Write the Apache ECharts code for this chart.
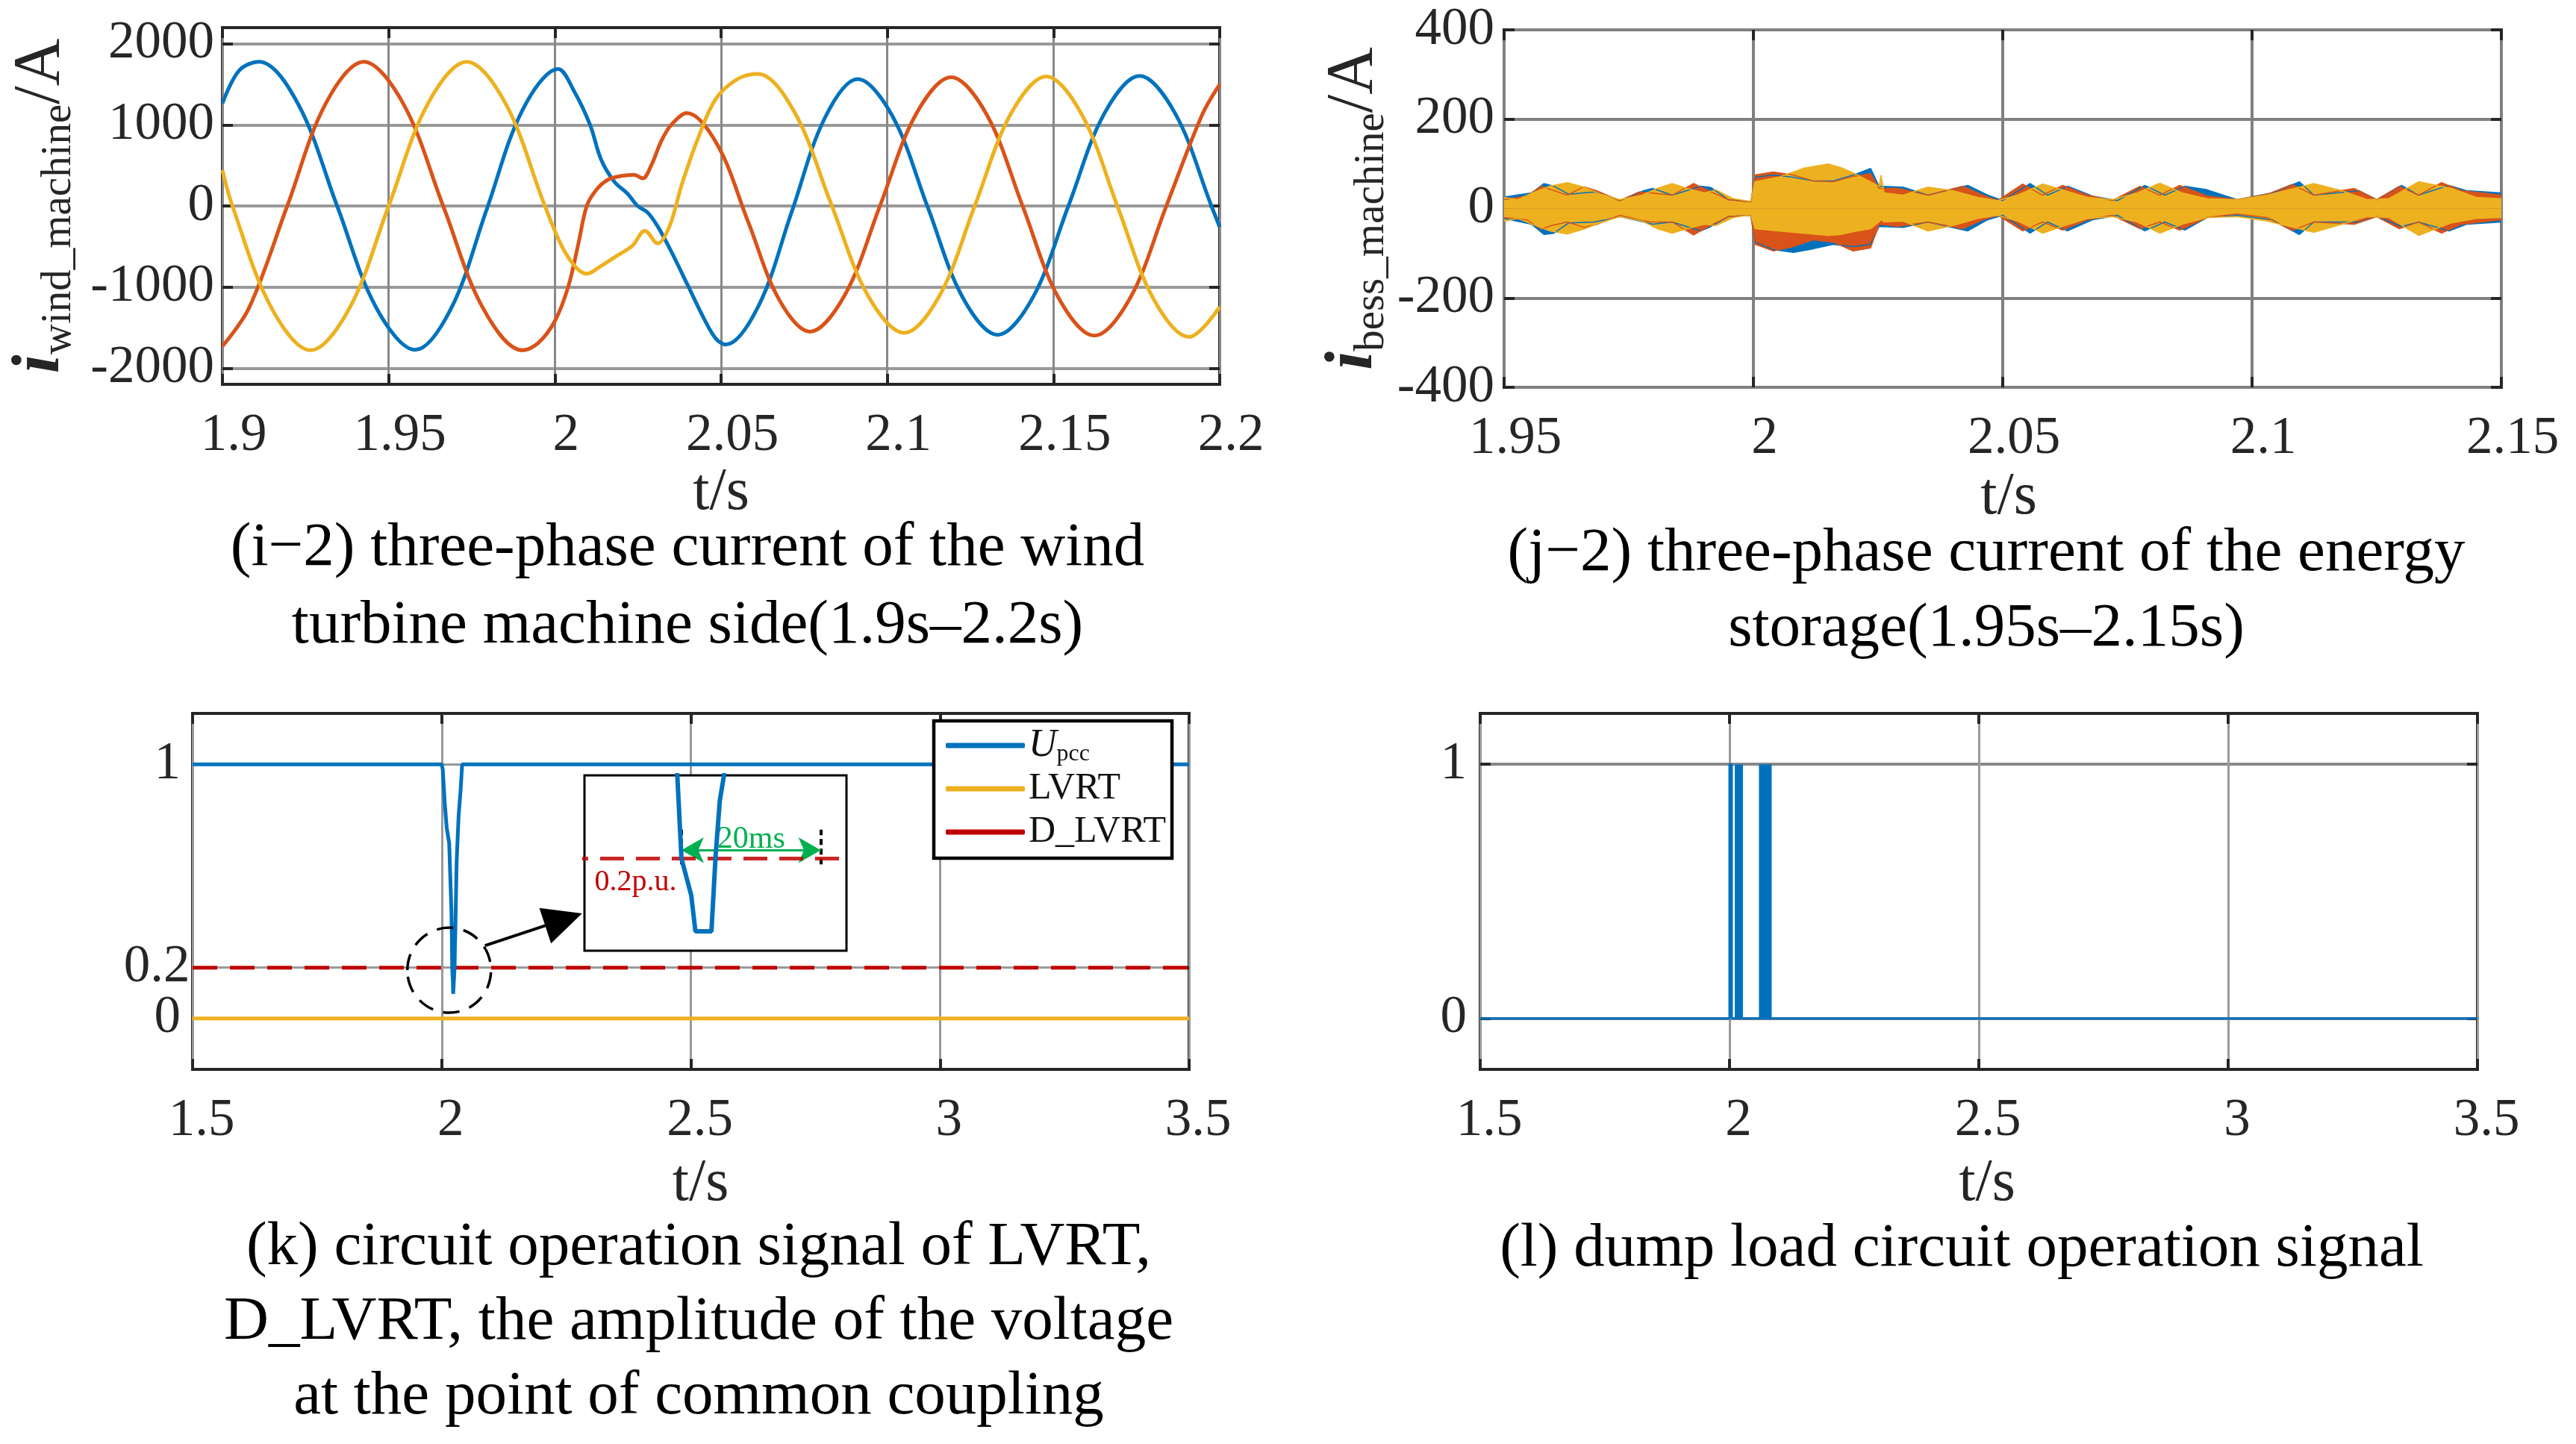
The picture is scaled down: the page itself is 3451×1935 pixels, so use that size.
<!DOCTYPE html>
<html><head><meta charset="utf-8">
<script src="https://cdn.jsdelivr.net/npm/echarts@6/dist/echarts.min.js"></script>
<style>html,body{margin:0;padding:0;background:#fff}#c{width:3451px;height:1935px}</style>
</head><body><div id="c"></div>
<script>
// ---------------- DATA ----------------
// (i-2) wind turbine machine-side three-phase current (A)
const windA_t = [1.9,1.905,1.911,1.92275,1.9345,1.94625,1.958,1.96875,1.9795,1.99025,2.001,2.006,2.0106,2.0139,2.0179,2.0219,2.0249,2.0279,2.0309,2.035,2.040,2.045,2.0485,2.0514,2.0613,2.07125,2.0812,2.0911,2.10163,2.11215,2.12267,2.1332,2.14388,2.15455,2.16523,2.1759,2.18668,2.19745,2.2];
const windA_v = [1267,1670,1780,1259,0,-1254,-1775,-1267,-42,1182,1690,1400,1000,574,300,150,0,-80,-250,-560,-980,-1400,-1640,-1710,-1230,-73,1084,1564,1102,-13,-1128,-1590,-1122,7,1136,1604,1136,7,-260];
const windB_t = [1.9,1.908,1.9195,1.931,1.9425,1.95445,1.9664,1.97835,1.9903,1.995,2.0,2.004,2.007,2.0096,2.0125,2.0159,2.020,2.0238,2.0264,2.029,2.032,2.035,2.0397,2.04895,2.0582,2.06745,2.0767,2.08733,2.09795,2.10858,2.1192,2.13,2.14075,2.1515,2.1623,2.1731,2.1839,2.1947,2.2];
const windB_v = [-1730,-1258,0,1258,1780,1258,0,-1258,-1780,-1690,-1420,-1000,-480,0,200,322,370,385,340,500,800,1000,1145,750,-202,-1154,-1550,-1090,18,1128,1587,1120,-6,-1133,-1600,-1133,-5,1123,1500];
const windC_t = [1.9,1.903,1.91475,1.9265,1.93825,1.95,1.96175,1.9735,1.98525,1.997,2.0035,2.0096,2.0139,2.0183,2.0233,2.0271,2.0309,2.0345,2.0383,2.0433,2.0484,2.0547,2.061,2.07203,2.08305,2.09408,2.1051,2.11578,2.12645,2.13713,2.1478,2.15855,2.1693,2.18005,2.1908,2.2];
const windC_v = [442,0,-1258,-1780,-1258,0,1258,1780,1258,0,-600,-836,-740,-624,-492,-305,-462,-250,280,860,1320,1560,1630,1162,32,-1097,-1565,-1102,16,1134,1597,1126,-9,-1144,-1615,-1245];

// (j-2) energy storage current: upper / lower envelope of each phase band (A)
const bessY_t  = [1.95,1.9527,1.9557,1.9592,1.9627,1.966,1.9692,1.9732,1.9777,1.9807,1.9837,1.9867,1.9902,1.9925,1.996,1.9995,2.0003,2.005,2.01,2.015,2.0175,2.02,2.0235,2.0252,2.0256,2.0262,2.03,2.035,2.04,2.045,2.049,2.053,2.058,2.0625,2.067,2.072,2.077,2.0815,2.086,2.091,2.097,2.103,2.1124,2.118,2.1231,2.1274,2.1334,2.14,2.145,2.15];
const bessY_up = [25,20,35,50,58,48,33,20,30,45,56,45,35,42,22,16,60,70,90,100,92,80,60,50,75,35,30,48,40,25,18,30,55,40,25,20,35,57,35,22,20,30,56,40,20,22,60,45,25,22];
const bessY_lo = [-28,-22,-35,-50,-57,-46,-32,-18,-28,-45,-55,-45,-35,-38,-20,-14,-45,-50,-55,-60,-58,-52,-45,-30,-25,-30,-28,-50,-38,-22,-15,-28,-55,-38,-22,-18,-30,-55,-35,-20,-18,-28,-53,-35,-18,-20,-60,-32,-22,-20];
const bessB_t  = [1.95,1.9545,1.9575,1.9595,1.9627,1.966,1.9685,1.9732,1.977,1.9795,1.9837,1.988,1.991,1.995,1.9995,2.0003,2.004,2.008,2.012,2.016,2.02,2.0235,2.0252,2.029,2.035,2.042,2.046,2.049,2.054,2.058,2.062,2.067,2.072,2.0775,2.0815,2.0855,2.091,2.097,2.103,2.108,2.1124,2.1205,2.125,2.1295,2.1334,2.138,2.142,2.15];
const bessB_up = [20,28,50,42,30,49,40,18,37,35,30,56,40,20,15,75,82,75,62,60,72,78,45,45,30,50,30,18,55,30,52,30,18,50,30,52,28,20,32,54,30,45,20,50,30,58,40,30];
const bessB_lo = [-20,-25,-46,-38,-30,-42,-36,-15,-25,-30,-30,-59,-40,-18,-15,-80,-95,-85,-70,-75,-95,-88,-35,-40,-30,-45,-25,-15,-50,-30,-48,-25,-15,-45,-30,-48,-20,-12,-20,-49,-30,-35,-18,-45,-30,-55,-35,-25];
const bessA_t  = [1.95,1.9555,1.958,1.96,1.963,1.968,1.9705,1.9732,1.978,1.9798,1.9837,1.9895,1.9915,1.995,1.9995,2.0003,2.004,2.008,2.012,2.016,2.02,2.0235,2.0252,2.03,2.035,2.043,2.047,2.05,2.0555,2.059,2.063,2.068,2.073,2.0785,2.0825,2.0865,2.091,2.097,2.104,2.1095,2.1124,2.1215,2.125,2.13,2.1334,2.1395,2.143,2.15];
const bessA_up = [26,35,56,50,32,37,30,18,40,45,30,50,47,20,15,70,75,70,62,62,75,90,50,48,30,52,30,18,56,30,50,28,18,52,30,50,42,20,35,60,30,40,20,52,30,52,40,35];
const bessA_lo = [-22,-35,-58,-55,-32,-30,-25,-18,-30,-35,-30,-50,-40,-18,-15,-75,-92,-98,-90,-80,-85,-80,-40,-42,-30,-50,-25,-15,-55,-30,-50,-25,-15,-50,-30,-48,-20,-15,-25,-58,-30,-30,-18,-40,-30,-50,-35,-30];

// (k) PCC voltage amplitude (p.u.) and thresholds
const upcc_t = [1.5,2.0,2.002,2.006,2.010,2.015,2.0195,2.0204,2.021,2.0224,2.0230,2.0253,2.0259,2.0265,2.0271,2.030,2.034,2.038,2.041,3.5];
const upcc_v = [1,1,0.98,0.85,0.75,0.69,0.42,0.318,0.2,0.148,0.097,0.097,0.204,0.282,0.318,0.62,0.8,0.9,1.0,1];
const lvrt_t = [1.5,3.5];
const lvrt_v = [0,0];
const dlvrt_t = [1.5,3.5];
const dlvrt_v = [0.2,0.2];
const holdStart = 2.021, holdEnd = 2.041;      // 20 ms window in the inset
const insetRangeT = [2.00707, 2.04469];
const insetRangeV = [0.0695, 0.318];

// (l) dump load operation signal
const dump_t = [1.5,2.0,2.0,2.0045,2.0045,3.5];
const dump_v = [0,0,1,1,0,0];
const dumpBurstStart = [2.0105, 2.059];
const dumpBurstEnd   = [2.027, 2.0845];

// tick values / labels
const windTicks = [-2000,-1000,0,1000,2000];
const kTicks = [0,0.2,1];
const kLabelsAxis = [0,1];      // 0.2 is labelled next to the D_LVRT threshold
const kLabelThreshold = 0.2;
const lTicks = [0,1];

// ---------------- STYLE ----------------
const FONT = '"Liberation Serif","Times New Roman",Times,serif';
const INK = '#262626';
const C_BLUE = '#0072BD', C_ORANGE = '#D95319', C_YELLOW = '#EDB120', C_RED = '#C00000', C_GREEN = '#00B050';
const pairs = (t, v) => t.map((x, i) => [x, v[i]]);
const fmt = v => String(Math.round(v * 1000) / 1000);

const gridBase = {show: true, borderColor: INK, borderWidth: 4, backgroundColor: 'transparent'};
const grids = [
  Object.assign({left: 298, top: 37, width: 1336, height: 478}, gridBase),
  Object.assign({left: 2015, top: 40, width: 1336, height: 479}, gridBase),
  Object.assign({left: 258, top: 956, width: 1335, height: 477}, gridBase),
  Object.assign({left: 1983, top: 956, width: 1336, height: 477}, gridBase),
  {show: true, left: 783, top: 1039, width: 351, height: 235, z: 5, backgroundColor: '#fff', borderColor: '#000', borderWidth: 3}
];

const tickStyle = {show: true, inside: true, length: 14, lineStyle: {color: INK, width: 4}};

function xBottom(gi, min, max, interval, nameGap, namePad, labelPad, split) {
  return {type: 'value', gridIndex: gi, min, max, interval, position: 'bottom',
    axisLine: {show: false, onZero: false}, axisTick: tickStyle,
    axisLabel: {margin: 34, fontSize: 71, fontFamily: FONT, color: INK, padding: [0, 0, 0, labelPad], formatter: fmt,
      hideOverlap: false, showMinLabel: true, showMaxLabel: true},
    splitLine: {show: true, lineStyle: split},
    name: 't/s', nameLocation: 'middle', nameGap,
    nameTextStyle: {fontSize: 80, fontFamily: FONT, color: INK, padding: [0, 0, 0, namePad]}};
}
function xTopAx(gi, min, max, interval) {
  return {type: 'value', gridIndex: gi, min, max, interval, position: 'top',
    axisLine: {show: false, onZero: false}, axisTick: tickStyle, axisLabel: {show: false}, splitLine: {show: false}};
}
function yLeft(gi, min, max, ticks, labels, interval, margin, split, name, nameGap) {
  const o = {type: 'value', gridIndex: gi, min, max, position: 'left',
    axisLine: {show: false, onZero: false},
    axisTick: Object.assign({}, tickStyle),
    axisLabel: {margin, fontSize: 71, fontFamily: FONT, color: INK, formatter: fmt,
      hideOverlap: false, showMinLabel: true, showMaxLabel: true},
    splitLine: {show: true, lineStyle: split}};
  if (ticks) { o.axisTick.customValues = ticks; o.axisLabel.customValues = labels || ticks; } else { o.interval = interval; }
  if (name) {
    o.name = name; o.nameLocation = 'middle'; o.nameGap = nameGap; o.nameRotate = 90;
    o.nameTextStyle = {color: INK, rich: {
      i: {fontFamily: FONT, fontStyle: 'italic', fontWeight: 'bold', fontSize: 90, lineHeight: 106, color: INK},
      s: {fontFamily: FONT, fontSize: 57, lineHeight: 57, verticalAlign: 'bottom', color: INK},
      a: {fontFamily: FONT, fontSize: 88, lineHeight: 106, color: INK}
    }};
  }
  return o;
}
function yRight(gi, min, max, ticks, interval) {
  const o = {type: 'value', gridIndex: gi, min, max, position: 'right',
    axisLine: {show: false, onZero: false}, axisTick: Object.assign({}, tickStyle),
    axisLabel: {show: false}, splitLine: {show: false}};
  if (ticks) { o.axisTick.customValues = ticks; } else { o.interval = interval; }
  return o;
}

const xAxes = [
  xBottom(0, 1.9, 2.2, 0.05, 106, 0, 30, {color: '#888', width: 3}),
  xTopAx(0, 1.9, 2.2, 0.05),
  xBottom(1, 1.95, 2.15, 0.05, 108, 16, 30, {color: '#808080', width: 4}),
  xTopAx(1, 1.95, 2.15, 0.05),
  xBottom(2, 1.5, 3.5, 0.5, 114, 26, 24, {color: '#999', width: 3}),
  xTopAx(2, 1.5, 3.5, 0.5),
  xBottom(3, 1.5, 3.5, 0.5, 114, 22, 24, {color: '#999', width: 3}),
  xTopAx(3, 1.5, 3.5, 0.5),
  {type: 'value', gridIndex: 4, min: insetRangeT[0], max: insetRangeT[1], show: false, splitLine: {show: false}}
];
const yAxes = [
  yLeft(0, -2200, 2200, windTicks, null, null, 11, {color: '#999', width: 4}, '{i|i}{s|wind_machine}{a|/A}', 190),
  yRight(0, -2200, 2200, windTicks, null),
  yLeft(1, -400, 400, null, null, 200, 13, {color: '#808080', width: 4}, '{i|i}{s|bess_machine}{a|/A}', 148),
  yRight(1, -400, 400, null, 200),
  yLeft(2, -0.2, 1.2, kTicks, kLabelsAxis, null, 16, {color: '#999', width: 3}),
  yRight(2, -0.2, 1.2, kTicks, null),
  yLeft(3, -0.2, 1.2, lTicks, null, null, 18, {color: '#888', width: 4}),
  yRight(3, -0.2, 1.2, lTicks, null),
  {type: 'value', gridIndex: 4, min: insetRangeV[0], max: insetRangeV[1], show: false, splitLine: {show: false}}
];

function lineS(name, data, color, xi, width, extra) {
  return Object.assign({type: 'line', name, data, xAxisIndex: xi, yAxisIndex: xi, showSymbol: false,
    symbol: 'none', color, lineStyle: {color, width}, animation: false}, extra || {});
}
function bandS(tag, t, up, lo, color) {
  const s = {areaStyle: {color, opacity: 1}};
  return [lineS(tag + '+', pairs(t, up), color, 2, 1.5, s), lineS(tag + '-', pairs(t, lo), color, 2, 1.5, s)];
}

const series = [
  lineS('ia', pairs(windA_t, windA_v), C_BLUE, 0, 5, {smooth: 0.35}),
  lineS('ib', pairs(windB_t, windB_v), C_ORANGE, 0, 5, {smooth: 0.35}),
  lineS('ic', pairs(windC_t, windC_v), C_YELLOW, 0, 5, {smooth: 0.35}),
  ...bandS('ba', bessA_t, bessA_up, bessA_lo, C_BLUE),
  ...bandS('bb', bessB_t, bessB_up, bessB_lo, C_ORANGE),
  ...bandS('bc', bessY_t, bessY_up, bessY_lo, C_YELLOW),
  lineS('LVRT', pairs(lvrt_t, lvrt_v), C_YELLOW, 4, 5),
  lineS('D_LVRT', pairs(dlvrt_t, dlvrt_v), C_RED, 4, 5, {lineStyle: {color: C_RED, width: 5, type: [33, 17]},
    markPoint: {silent: true, animation: false, symbol: 'circle', symbolSize: 1, itemStyle: {color: 'transparent'},
      data: [{coord: [xAxes[4].min, kLabelThreshold],
        label: {show: true, position: 'left', distance: 3, formatter: fmt(kLabelThreshold), color: INK, fontSize: 71, fontFamily: FONT}}]}}),
  lineS('Upcc', pairs(upcc_t, upcc_v), C_BLUE, 4, 5),
  lineS('dump', pairs(dump_t, dump_v), C_BLUE, 6, 3),
  {type: 'custom', name: 'dumpBurst', xAxisIndex: 6, yAxisIndex: 6, animation: false,
    data: dumpBurstStart.map((s, i) => [s, dumpBurstEnd[i]]),
    renderItem: (params, api) => {
      const p0 = api.coord([api.value(0), 1]);
      const p1 = api.coord([api.value(1), 0]);
      return {type: 'rect', shape: {x: p0[0], y: p0[1], width: p1[0] - p0[0], height: p1[1] - p0[1]}, style: {fill: C_BLUE}};
    }},
  // inset (zoom of the voltage dip)
  lineS('dl_zoom', pairs(dlvrt_t, dlvrt_v), C_RED, 8, 5, {z: 10,
    lineStyle: {color: 'rgba(192,0,0,0.85)', width: 5, type: [32, 16]},
    markLine: {silent: true, animation: false, symbol: 'none', label: {show: false},
      data: [
        [{coord: [holdStart, 0.192], lineStyle: {color: '#000', type: [8, 5], width: 4}}, {coord: [holdStart, 0.241]}],
        [{coord: [holdEnd, 0.192], lineStyle: {color: '#000', type: [8, 5], width: 4}}, {coord: [holdEnd, 0.241]}],
        [{coord: [holdStart, 0.212], symbol: 'arrow', symbolSize: [26, 30], lineStyle: {color: C_GREEN, type: 'solid', width: 3}},
         {coord: [holdEnd, 0.212], symbol: 'arrow', symbolSize: [26, 30]}]
      ]},
    markPoint: {silent: true, animation: false, symbol: 'circle', symbolSize: 1, itemStyle: {color: 'transparent'},
      data: [
        {coord: [2.031, 0.227], label: {show: true, position: 'inside', formatter: '20ms', color: C_GREEN, fontSize: 42, fontFamily: FONT}},
        {coord: [2.0144, 0.166], label: {show: true, position: 'inside', formatter: '0.2p.u.', color: C_RED, fontSize: 40, fontFamily: FONT}}
      ]}
  }),
  lineS('up_zoom', pairs(upcc_t, upcc_v), C_BLUE, 8, 6, {z: 11})
];

const option = {
  backgroundColor: '#fff',
  animation: false,
  grid: grids,
  xAxis: xAxes,
  yAxis: yAxes,
  legend: {
    data: ['Upcc', 'LVRT', 'D_LVRT'], orient: 'vertical', left: 1251, top: 966,
    padding: [5, 8, 7, 16], itemGap: 2, itemWidth: 106, itemHeight: 7, icon: 'roundRect',
    backgroundColor: '#fff', borderColor: '#000', borderWidth: 4.5, selectedMode: false, z: 20,
    formatter: n => n === 'Upcc' ? '{u|U}{p|pcc}' : n,
    textStyle: {fontFamily: FONT, fontSize: 50, lineHeight: 56, color: '#111',
      rich: {u: {fontFamily: FONT, fontStyle: 'italic', fontSize: 52, lineHeight: 56, color: '#111'},
             p: {fontFamily: FONT, fontSize: 32, lineHeight: 32, verticalAlign: 'bottom', color: '#111'}}}
  },
  series
};

const chart = echarts.init(document.getElementById('c'));
chart.setOption(option);

// annotations: dashed circle + arrow pointing to the inset, and captions
const cen = chart.convertToPixel({gridIndex: 2}, [2.015, 0.19]);
const tail = [cen[0] + 48, cen[1] - 33];
const tip = [cen[0] + 178, cen[1] - 76];
const dx = tip[0] - tail[0], dy = tip[1] - tail[1], L = Math.hypot(dx, dy);
const ux = dx / L, uy = dy / L, hl = 52, hw = 25;
const base = [tip[0] - ux * hl, tip[1] - uy * hl];
const capStyle = (text, lh) => ({text, fontFamily: FONT, fontSize: 83, fill: '#000', align: 'center', textAlign: 'center', verticalAlign: 'top', textVerticalAlign: 'top', lineHeight: lh});
chart.setOption({graphic: {elements: [
  {type: 'ellipse', z: 30, shape: {cx: cen[0], cy: cen[1], rx: 56, ry: 57}, style: {fill: 'none', stroke: '#000', lineWidth: 3.5, lineDash: [22, 14]}},
  {type: 'line', z: 30, shape: {x1: tail[0], y1: tail[1], x2: base[0], y2: base[1]}, style: {stroke: '#000', lineWidth: 4}},
  {type: 'polygon', z: 30, shape: {points: [tip, [base[0] - uy * hw, base[1] + ux * hw], [base[0] + uy * hw, base[1] - ux * hw]]}, style: {fill: '#000'}},
  {type: 'text', x: 921, y: 683, style: capStyle('(i\u22122) three-phase current of the wind\nturbine machine side(1.9s\u20132.2s)', 104)},
  {type: 'text', x: 2661, y: 692, style: capStyle('(j\u22122) three-phase current of the energy\nstorage(1.95s\u20132.15s)', 101)},
  {type: 'text', x: 936, y: 1622, style: capStyle('(k) circuit operation signal of LVRT,\nD_LVRT, the amplitude of the voltage\nat the point of common coupling', 100)},
  {type: 'text', x: 2628, y: 1624, style: capStyle('(l) dump load circuit operation signal', 100)}
]}});
</script></body></html>
